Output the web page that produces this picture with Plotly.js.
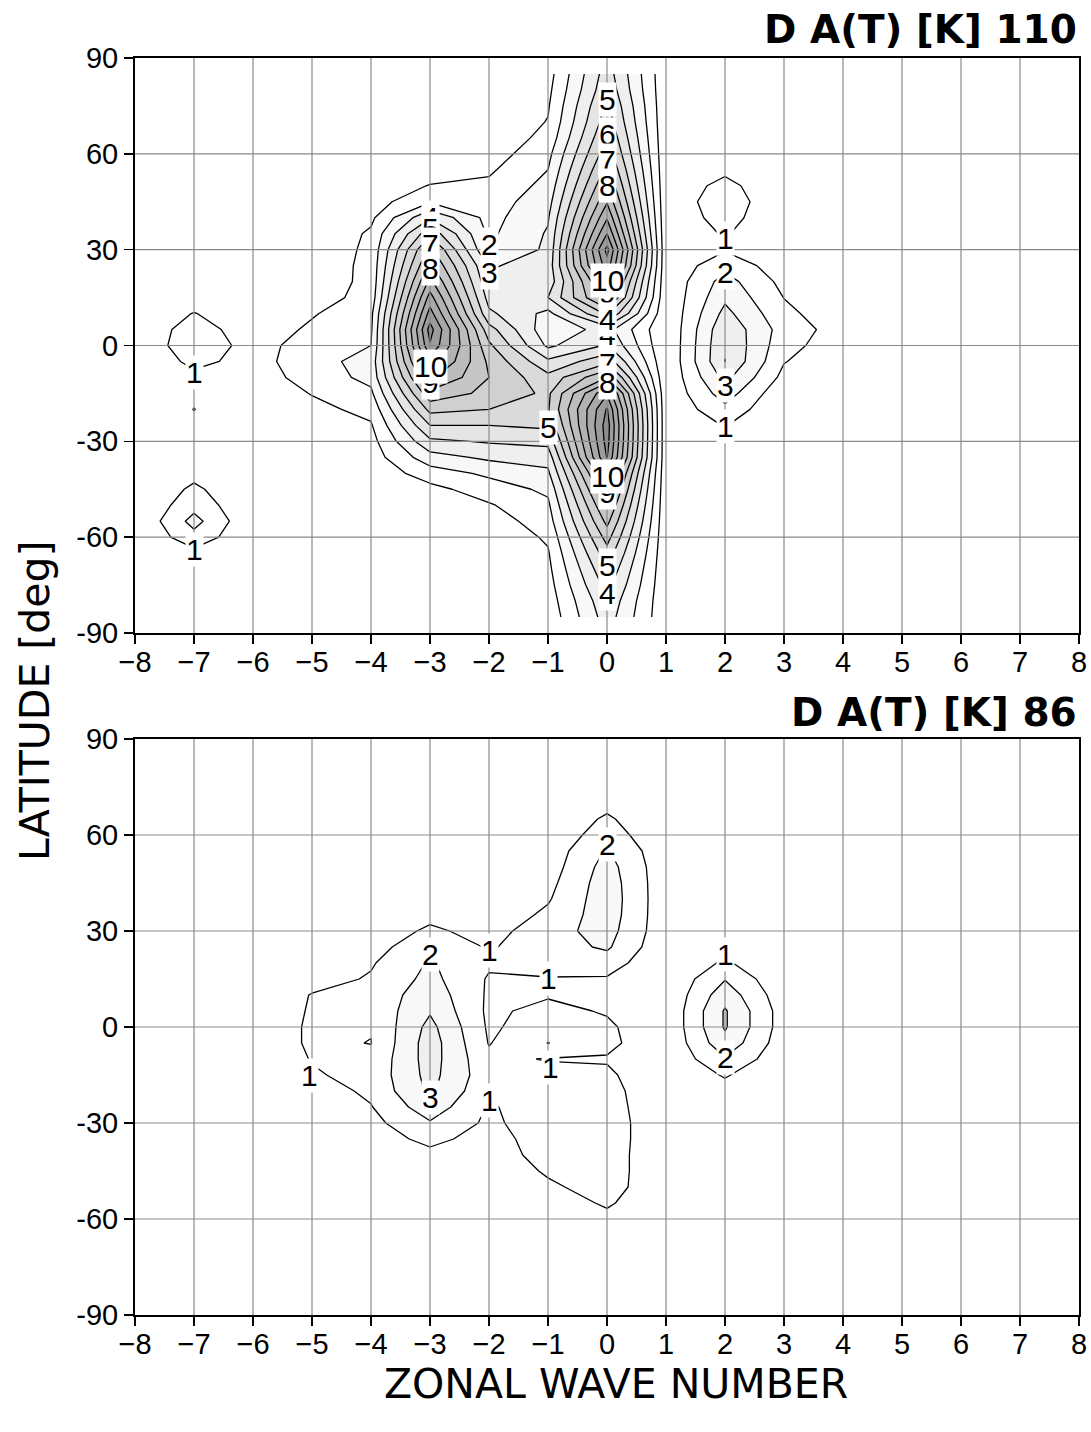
<!DOCTYPE html>
<html>
<head>
<meta charset="utf-8">
<script src="https://cdn.plot.ly/plotly-3.0.1.min.js"></script>
<style>
  html, body { margin: 0; padding: 0; background: #ffffff; }
  #chart { width: 1091px; height: 1432px; }
</style>
</head>
<body>
<div id="chart"></div>
<script>
// Latitude rows (deg) and zonal wave numbers (columns) of the amplitude grids
const LATS = [-85,-80,-75,-70,-65,-60,-55,-50,-45,-40,-35,-30,-25,-20,-15,-10,-5,0,5,10,15,20,25,30,35,40,45,50,55,60,65,70,75,80,85];
const WAVES = [-8,-7,-6,-5,-4,-3,-2,-1,0,1,2,3,4,5,6,7,8];
const XTICKS = [-8,-7,-6,-5,-4,-3,-2,-1,0,1,2,3,4,5,6,7,8];
const YTICKS = [-90,-60,-30,0,30,60,90];
const YTICKTEXT = ['-90','-60','-30','0','30','60','90'];

// Amplitude profile along latitude (south to north), one array per wave number
const EMPTY = [0,0,0,0,0,0,0,0,0,0,0,0,0,0,0,0,0,0,0,0,0,0,0,0,0,0,0,0,0,0,0,0,0,0,0];

// ---- panel "110"
const a110_wn_m7 = [0.1,0.1,0.1,0.2,0.7,1.65,2.35,1.65,1.2,0.7,0.4,0.5,0.8,1.02,0.8,0.7,1.3,1.8,1.6,1.05,0.3,0.1,0.1,0.1,0.1,0.1,0.1,0.1,0.1,0.1,0.1,0.1,0.1,0.1,0.1];
const a110_wn_m6 = [0.1,0.1,0.1,0.1,0.1,0.1,0.1,0.1,0.1,0.1,0.1,0.1,0.1,0.1,0.2,0.5,0.6,0.55,0.3,0.15,0.05,0.05,0.05,0.05,0.05,0.05,0.05,0.05,0.05,0.05,0.05,0.05,0.05,0.05,0.05];
const a110_wn_m5 = [0.05,0.05,0.05,0.05,0.05,0.05,0.05,0.05,0.05,0.05,0.05,0.2,0.4,0.7,1.05,1.4,1.6,1.5,1.2,0.9,0.5,0.35,0.3,0.2,0.15,0.1,0.05,0.05,0.05,0.05,0.05,0.05,0.05,0.05,0.05];
const a110_wn_m4 = [0.1,0.1,0.1,0.1,0.1,0.1,0.1,0.1,0.1,0.3,0.5,0.65,0.9,1.3,1.8,2.3,2.4,2.0,1.85,1.75,1.4,1.3,1.3,1.25,1.15,0.8,0.5,0.3,0.1,0.1,0.1,0.1,0.1,0.1,0.1];
const a110_wn_m3 = [0.1,0.1,0.1,0.1,0.1,0.1,0.1,0.3,0.7,1.5,2.6,3.8,5.0,6.3,7.7,9.2,10.6,11.9,12.4,11.4,10.4,9.3,8.2,7.3,5.7,3.9,1.9,1.05,0.5,0.2,0.1,0.1,0.1,0.1,0.1];
const a110_wn_m2 = [0.2,0.2,0.2,0.2,0.2,0.2,0.5,0.9,1.5,2.2,3.2,4.1,5.0,6.0,6.7,7.0,6.8,6.2,5.4,4.2,3.6,3.2,2.9,1.95,1.8,1.65,1.5,1.2,0.85,0.5,0.3,0.1,0.1,0.1,0.1];
const a110_wn_m1 = [0.3,0.45,0.6,0.75,0.9,1.15,1.5,1.8,2.2,2.8,3.4,4.3,5.2,5.9,5.8,5.3,4.2,2.8,2.3,2.7,4.0,3.3,3.4,3.2,3.1,2.9,2.6,2.3,2.0,1.7,1.3,1.05,0.9,0.75,0.6];
const a110_wn_0  = [3.5,3.8,4.35,4.9,5.6,6.4,7.3,8.2,9.2,10.3,12.05,12.4,12.5,12.1,10.9,8.0,5.7,4.1,3.4,6.2,8.6,9.7,11.6,12.3,11.0,9.9,8.9,8.05,7.3,6.6,6.05,5.55,5.2,4.75,4.5];
const a110_wn_1  = [0.2,0.2,0.2,0.2,0.2,0.2,0.2,0.2,0.2,0.2,0.2,0.2,0.2,0.2,0.15,0.1,0.05,0.05,0.05,0.1,0.15,0.2,0.2,0.2,0.2,0.2,0.2,0.2,0.2,0.2,0.2,0.2,0.2,0.2,0.2];
const a110_wn_2  = [0.1,0.1,0.1,0.1,0.1,0.1,0.1,0.1,0.1,0.1,0.3,0.6,1.05,1.7,2.5,3.3,4.01,3.95,3.8,3.3,2.8,2.4,1.7,0.9,1.1,1.45,1.7,1.35,0.75,0.3,0.1,0.1,0.1,0.1,0.1];
const a110_wn_3  = [0.05,0.05,0.05,0.05,0.05,0.05,0.05,0.05,0.05,0.05,0.05,0.05,0.05,0.05,0.2,0.7,1.05,1.35,1.55,1.25,0.98,0.7,0.4,0.2,0.05,0.05,0.05,0.05,0.05,0.05,0.05,0.05,0.05,0.05,0.05];
const a110_wn_4  = [0,0,0,0,0,0,0,0,0,0,0,0,0,0,0,0,0.2,0.4,0.55,0.35,0.1,0,0,0,0,0,0,0,0,0,0,0,0,0,0];

// ---- panel "86"
const a86_wn_m6 = [0.05,0.05,0.05,0.05,0.05,0.05,0.05,0.05,0.05,0.05,0.05,0.05,0.05,0.05,0.05,0.2,0.3,0.3,0.25,0.15,0.05,0.05,0.05,0.05,0.05,0.05,0.05,0.05,0.05,0.05,0.05,0.05,0.05,0.05,0.05];
const a86_wn_m5 = [0.05,0.05,0.05,0.05,0.05,0.05,0.05,0.05,0.05,0.05,0.05,0.05,0.05,0.5,0.9,1.05,1.15,1.15,1.1,1.05,0.6,0.3,0.15,0.05,0.05,0.05,0.05,0.05,0.05,0.05,0.05,0.05,0.05,0.05,0.05];
const a86_wn_m4 = [0.05,0.05,0.05,0.05,0.05,0.05,0.05,0.05,0.05,0.2,0.45,0.7,0.95,1.2,1.3,1.2,0.98,1.05,1.25,1.3,1.1,0.9,0.55,0.3,0.15,0.05,0.05,0.05,0.05,0.05,0.05,0.05,0.05,0.05,0.05];
const a86_wn_m3 = [0.05,0.05,0.05,0.05,0.05,0.05,0.05,0.05,0.2,0.7,1.3,1.9,2.6,3.2,3.35,3.45,3.5,3.3,2.9,2.6,2.3,2.1,1.8,1.2,0.7,0.3,0.05,0.05,0.05,0.05,0.05,0.05,0.05,0.05,0.05];
const a86_wn_m2 = [0.05,0.05,0.05,0.05,0.05,0.05,0.05,0.1,0.2,0.4,0.55,0.8,0.9,1.15,1.35,1.2,0.95,0.85,0.8,0.85,0.9,1.15,0.9,0.6,0.35,0.2,0.05,0.05,0.05,0.05,0.05,0.05,0.05,0.05,0.05];
const a86_wn_m1 = [0.05,0.05,0.05,0.05,0.05,0.05,0.4,0.8,1.15,1.45,1.55,1.55,1.5,1.4,1.3,0.95,2.02,1.5,1.3,0.9,0.95,1.35,1.55,1.6,1.2,0.9,0.7,0.5,0.4,0.3,0.2,0.1,0.1,0.1,0.1];
const a86_wn_0  = [0.05,0.05,0.05,0.05,0.05,0.7,1.15,1.5,1.55,1.55,1.6,1.6,1.5,1.4,1.2,0.9,1.3,1.2,0.9,0.7,0.9,1.5,2.15,2.4,2.55,2.6,2.55,2.4,2.1,1.5,1.15,0.7,0.3,0.1,0.05];
const a86_wn_1  = [0.1,0.1,0.1,0.1,0.1,0.1,0.1,0.1,0.1,0.1,0.1,0.1,0.1,0.1,0.1,0.1,0.1,0.1,0.1,0.1,0.1,0.1,0.2,0.3,0.3,0.3,0.3,0.3,0.25,0.2,0.1,0.1,0.1,0.1,0.1];
const a86_wn_2  = [0.05,0.05,0.05,0.05,0.05,0.05,0.05,0.05,0.05,0.05,0.05,0.05,0.3,0.6,1.1,1.9,2.7,3.1,3.1,2.6,1.95,1.15,0.6,0.3,0.05,0.05,0.05,0.05,0.05,0.05,0.05,0.05,0.05,0.05,0.05];
const a86_wn_3  = [0.05,0.05,0.05,0.05,0.05,0.05,0.05,0.05,0.05,0.05,0.05,0.05,0.05,0.05,0.05,0.25,0.4,0.5,0.5,0.35,0.15,0.05,0.05,0.05,0.05,0.05,0.05,0.05,0.05,0.05,0.05,0.05,0.05,0.05,0.05];

// Columns in wave-number order -8 .. 8
const COLS_110 = [EMPTY, a110_wn_m7, a110_wn_m6, a110_wn_m5, a110_wn_m4, a110_wn_m3, a110_wn_m2, a110_wn_m1,
                  a110_wn_0, a110_wn_1, a110_wn_2, a110_wn_3, a110_wn_4, EMPTY, EMPTY, EMPTY, EMPTY];
const COLS_86 = [EMPTY, EMPTY, a86_wn_m6, a86_wn_m5, a86_wn_m4, a86_wn_m3, a86_wn_m2, a86_wn_m1,
                 a86_wn_0, a86_wn_1, a86_wn_2, a86_wn_3, EMPTY, EMPTY, EMPTY, EMPTY, EMPTY];

// Contour level labels: [wave number, latitude, level text]
const LABELS_110 = [
  [-7, -8.6, '1'], [-7, -64, '1'],
  [-3, 40, '4'], [-3, 36.5, '5'], [-3, 31.5, '7'], [-3, 24, '8'],
  [-3, -11.5, '9'], [-3, -6.7, '10'],
  [-2, 31.5, '2'], [-2, 23, '3'],
  [0, 77, '5'], [0, 66, '6'], [0, 58, '7'], [0, 50, '8'],
  [0, 16.5, '9'], [0, 20.5, '10'],
  [0, 3.5, '4'], [0, 8, '4'],
  [0, -5.5, '7'], [0, -11.7, '8'],
  [-1, -25.8, '5'],
  [0, -46, '9'], [0, -41, '10'],
  [0, -69, '5'], [0, -77.5, '4'],
  [2, 33.6, '1'], [2, 23, '2'], [2, -12.4, '3'], [2, -25.4, '1']
];
const LABELS_86 = [
  [-5.05, -15, '1'], [-3, 22.5, '2'], [-3, -22, '3'], [-2, 24, '1'], [-1, 15, '1'],
  [-0.95, -12.5, '1'], [-2, -23, '1'], [0, 57, '2'], [2, 22.5, '1'], [2, -9.4, '2']
];

// Grey shade for each band between successive contour levels (<1, 1-2, ..., >12)
const BAND_SHADES = ['#ffffff','#ffffff','#f8f8f8','#efefef','#e5e5e5','#dadada','#d0d0d0',
                     '#c6c6c6','#bcbcbc','#b2b2b2','#a8a8a8','#9c9c9c','#909090'];

function gridFromColumns(cols) {
  return LATS.map((_, i) => cols.map(c => c[i]));
}

const colorscale = BAND_SHADES.map((c, i) => [i / (BAND_SHADES.length - 1), c]);

function contourTrace(cols, xa, ya) {
  return {
    type: 'contour',
    x: WAVES, y: LATS, z: gridFromColumns(cols),
    xaxis: xa, yaxis: ya,
    autocontour: false,
    contours: { start: 1, end: 12, size: 1, coloring: 'fill', showlabels: false },
    colorscale: colorscale,
    showscale: false,
    line: { color: '#000000', width: 1.3, smoothing: 0 },
    hoverinfo: 'skip'
  };
}

const W = 1091, H = 1432;
const xDom = [135 / W, 1079 / W];
const yDomTop = [(H - 633) / H, (H - 58) / H];
const yDomBot = [(H - 1315) / H, (H - 739) / H];

const tickFont = { family: 'Liberation Sans, Arial, sans-serif', size: 29, color: '#000' };
function xAxis(anchor) {
  return {
    domain: xDom, anchor: anchor, range: [-8, 8],
    tickmode: 'array', tickvals: XTICKS,
    ticks: 'outside', ticklen: 9, tickwidth: 1.5, tickcolor: '#000',
    ticklabelstandoff: -7,
    showline: true, linecolor: '#000', linewidth: 2, mirror: true,
    showgrid: false, zeroline: false, tickfont: tickFont
  };
}
function yAxis(anchor, dom) {
  return {
    domain: dom, anchor: anchor, range: [-90, 90],
    tickmode: 'array', tickvals: YTICKS, ticktext: YTICKTEXT,
    ticks: 'outside', ticklen: 9, tickwidth: 1.5, tickcolor: '#000',
    showline: true, linecolor: '#000', linewidth: 2, mirror: true,
    showgrid: false, zeroline: false, tickfont: tickFont
  };
}

// Grid lines sit above the shading, so they are drawn as shapes
function gridShapes(xa, ya) {
  const s = [];
  const style = { color: '#8a8a8a', width: 1.2 };
  XTICKS.slice(1, -1).forEach(v => s.push({
    type: 'line', layer: 'above', xref: xa, yref: ya + ' domain', x0: v, x1: v, y0: 0, y1: 1, line: style
  }));
  YTICKS.slice(1, -1).forEach(v => s.push({
    type: 'line', layer: 'above', xref: xa + ' domain', yref: ya, x0: 0, x1: 1, y0: v, y1: v, line: style
  }));
  return s;
}

const labelFont = { family: 'Liberation Sans Narrow, Liberation Sans, Arial, sans-serif', size: 30, color: '#000' };
function levelLabels(list, xa, ya) {
  return list.map(([x, y, t]) => ({
    x: x, y: y, xref: xa, yref: ya, text: t, showarrow: false,
    xanchor: 'center', yanchor: 'middle', bgcolor: '#ffffff', borderpad: 0, font: labelFont
  }));
}

const titleFont = { family: 'DejaVu Sans, sans-serif', size: 39, color: '#000', weight: 'bold' };
const axisTitleFont = { family: 'DejaVu Sans, sans-serif', size: 41, color: '#000' };

const annotations = [
  ...levelLabels(LABELS_110, 'x', 'y'),
  ...levelLabels(LABELS_86, 'x2', 'y2'),
  { xref: 'paper', yref: 'paper', x: 1079 / W, y: (H - 30) / H, xanchor: 'right', yanchor: 'middle',
    text: '<b>D A(T) [K] 110</b>', showarrow: false, font: titleFont },
  { xref: 'paper', yref: 'paper', x: 1079 / W, y: (H - 712) / H, xanchor: 'right', yanchor: 'middle',
    text: '<b>D A(T) [K] 86</b>', showarrow: false, font: titleFont },
  { xref: 'paper', yref: 'paper', x: 35 / W, y: (H - 701) / H, xanchor: 'center', yanchor: 'middle',
    textangle: -90, text: 'LATITUDE [deg]', showarrow: false, font: axisTitleFont },
  { xref: 'paper', yref: 'paper', x: 616 / W, y: (H - 1384) / H, xanchor: 'center', yanchor: 'middle',
    text: 'ZONAL WAVE NUMBER', showarrow: false, font: axisTitleFont }
];

const layout = {
  width: W, height: H,
  margin: { l: 0, r: 0, t: 0, b: 0 },
  paper_bgcolor: '#ffffff', plot_bgcolor: '#ffffff',
  showlegend: false,
  xaxis: xAxis('y'), yaxis: yAxis('x', yDomTop),
  xaxis2: xAxis('y2'), yaxis2: yAxis('x2', yDomBot),
  shapes: [...gridShapes('x', 'y'), ...gridShapes('x2', 'y2')],
  annotations: annotations
};

Plotly.newPlot('chart', [contourTrace(COLS_110, 'x', 'y'), contourTrace(COLS_86, 'x2', 'y2')], layout, { staticPlot: true });
</script>
</body>
</html>
